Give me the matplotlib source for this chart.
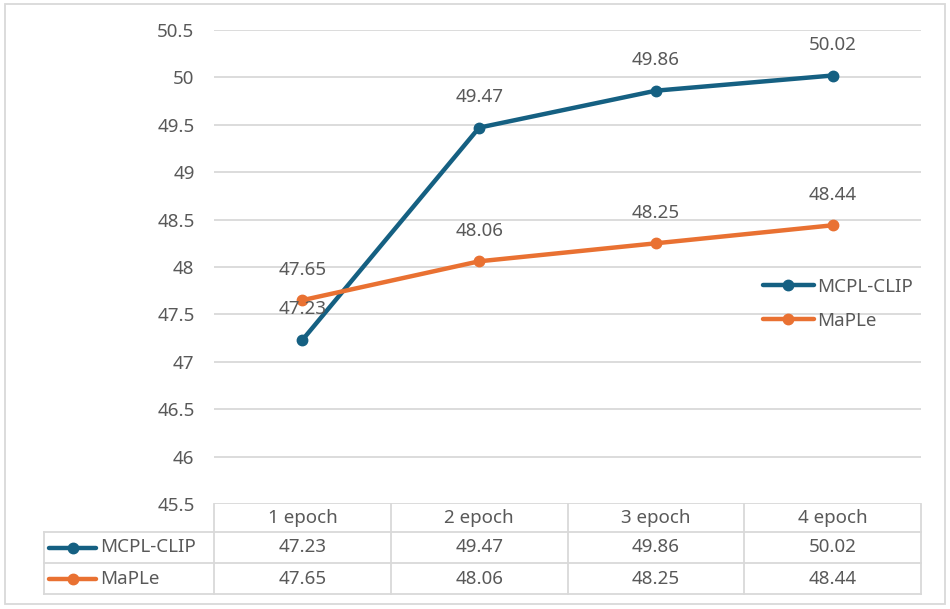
import matplotlib
matplotlib.use("Agg")
import matplotlib.pyplot as plt
from matplotlib.lines import Line2D
from matplotlib.patches import Rectangle
import matplotlib.transforms as mtransforms

categories = ["1 epoch", "2 epoch", "3 epoch", "4 epoch"]
series_names = ["MCPL-CLIP", "MaPLe"]
mcpl_clip = [47.23, 49.47, 49.86, 50.02]
maple = [47.65, 48.06, 48.25, 48.44]
y_ticks = [45.5, 46, 46.5, 47, 47.5, 48, 48.5, 49, 49.5, 50, 50.5]

colors = ["#156082", "#E97132"]
text_color = "#595959"
grid_color = "#D9D9D9"

plt.rcParams['font.family'] = ['Noto Sans', 'DejaVu Sans']
FS = 13.5

W, H = 950, 609
fig = plt.figure(figsize=(W / 100, H / 100), dpi=100)
fig.patch.set_facecolor("white")

def fy(p):
    return 1 - p / H

def fx(p):
    return p / W

# outer border
fig.add_artist(Rectangle((fx(5), fy(604)), fx(940), (604 - 4) / H, transform=fig.transFigure,
                         fill=False, edgecolor=grid_color, linewidth=1.3))

left, right, top, bottom = 214, 921, 30, 504
ax = fig.add_axes([fx(left), fy(bottom), (right - left) / W, (bottom - top) / H])
ax.set_xlim(-0.5, len(categories) - 0.5)
ax.set_ylim(45.5, 50.5)
ax.set_yticks(y_ticks)
ax.set_yticklabels([f"{v:g}" for v in y_ticks], color=text_color, fontsize=FS)
ax.tick_params(axis='y', length=0, pad=14)
ax.set_xticks([])
for s in ax.spines.values():
    s.set_visible(False)
ax.set_axisbelow(True)
ax.yaxis.grid(True, color=grid_color, linewidth=1.3)
ax.patch.set_alpha(0)

x = list(range(len(categories)))
all_series = [mcpl_clip, maple]
for name, vals, c in zip(series_names, all_series, colors):
    ax.plot(x, vals, color=c, linewidth=3.2, marker='o', markersize=7.5, label=name,
            solid_capstyle='round', zorder=3)
    for xi, v in zip(x, vals):
        ax.annotate(f"{v:.2f}", (xi, v), xytext=(0, 22), textcoords='offset points',
                    ha='center', va='center', fontsize=FS, color=text_color, zorder=4)

leg = ax.legend(loc='upper left', bbox_to_anchor=(fx(763), fy(278)), bbox_transform=fig.transFigure,
                frameon=False, fontsize=FS, handlelength=2.7, handletextpad=0.2,
                labelspacing=0.85, borderpad=0, borderaxespad=0)
for t in leg.get_texts():
    t.set_color(text_color)

# data table
blend = mtransforms.blended_transform_factory(ax.transData, fig.transFigure)
col_edges = [i - 0.5 for i in range(len(categories) + 1)]
lw = 1.3
for yl in [532, 563, 594]:
    fig.add_artist(Line2D([fx(44), fx(right)], [fy(yl), fy(yl)], color=grid_color, lw=lw))
for ce in col_edges:
    fig.add_artist(Line2D([ce, ce], [fy(504), fy(594)], color=grid_color, lw=lw, transform=blend))
fig.add_artist(Line2D([fx(44), fx(44)], [fy(532), fy(594)], color=grid_color, lw=lw))

header_y = (504 + 532) / 2
row_ys = [(532 + 563) / 2, (563 + 594) / 2]
for xi, cat in zip(x, categories):
    fig.text(xi, fy(header_y), cat, transform=blend, ha='center', va='center',
             fontsize=FS, color=text_color)
for name, vals, c, ry in zip(series_names, all_series, colors, row_ys):
    for xi, v in zip(x, vals):
        fig.text(xi, fy(ry), f"{v:.2f}", transform=blend, ha='center', va='center',
                 fontsize=FS, color=text_color)
    fig.add_artist(Line2D([fx(49), fx(96)], [fy(ry), fy(ry)], color=c, lw=3.2,
                          solid_capstyle='round'))
    fig.add_artist(Line2D([fx(72.5)], [fy(ry)], color=c, marker='o', markersize=7.5))
    fig.text(fx(100), fy(ry), name, ha='left', va='center', fontsize=FS, color=text_color)

fig.savefig("out.png", dpi=100, facecolor="white")
